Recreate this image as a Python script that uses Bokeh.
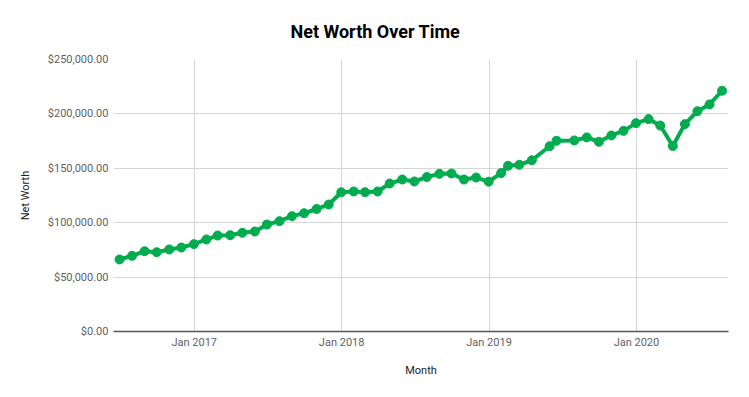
import pandas as pd
from bokeh.plotting import figure
from bokeh.models import (FixedTicker, NumeralTickFormatter, DatetimeTickFormatter,
                          Range1d, ColumnDataSource)
from bokeh.embed import file_html
from bokeh.resources import INLINE

# ---- data ----
dates = [
    "2016-06-30", "2016-07-31", "2016-08-31", "2016-09-30", "2016-10-31", "2016-11-30", "2016-12-31",
    "2017-01-31", "2017-02-28", "2017-03-31", "2017-04-30", "2017-05-31", "2017-06-30",
    "2017-07-31", "2017-08-31", "2017-09-30", "2017-10-31", "2017-11-30", "2017-12-31",
    "2018-01-31", "2018-02-28", "2018-03-31", "2018-04-30", "2018-05-31", "2018-06-30",
    "2018-07-31", "2018-08-31", "2018-09-30", "2018-10-31", "2018-11-30", "2018-12-31",
    "2019-01-31", "2019-02-17", "2019-03-17", "2019-04-17", "2019-05-31", "2019-06-17",
    "2019-07-31", "2019-08-31", "2019-09-30", "2019-10-31", "2019-11-30", "2019-12-31",
    "2020-01-31", "2020-02-29", "2020-03-31", "2020-04-30", "2020-05-31", "2020-06-30", "2020-07-31",
]
net_worth = [
    66200, 69600, 73800, 72900, 75400, 77200, 80300,
    84600, 88200, 88500, 90700, 91900, 98300,
    101400, 106000, 108700, 112600, 116700, 128000,
    128700, 128000, 128700, 136000, 139700, 137900,
    142000, 144900, 145200, 139700, 141500, 137700,
    145600, 152300, 153200, 157400, 170300, 175300,
    175600, 178400, 174400, 180200, 184400, 191500,
    195200, 189300, 170500, 190600, 202500, 208700, 221300,
]
x_ticks = ["2017-01-01", "2018-01-01", "2019-01-01", "2020-01-01"]
y_ticks = [0, 50000, 100000, 150000, 200000, 250000]

title_text = "Net Worth Over Time"
x_title = "Month"
y_title = "Net Worth"

# ---- build ----
dt = pd.to_datetime(dates)
src = ColumnDataSource(dict(x=dt, y=net_worth))

x_start = dt[0] - pd.Timedelta(days=15)
x_end = dt[-1] + pd.Timedelta(days=16)

FONT = "Roboto"
GREEN = "#00ac4e"

p = figure(width=733, height=381, x_axis_type="datetime",
           output_backend="svg", toolbar_location=None,
           x_range=Range1d(x_start, x_end), y_range=Range1d(y_ticks[0], y_ticks[-1]),
           min_border_left=113, min_border_right=5, min_border_top=59, min_border_bottom=50)

p.title.text = title_text
p.title.text_font = FONT
p.title.text_font_size = "18px"
p.title.text_font_style = "bold"
p.title.text_color = "#000000"
p.title.text_line_height = 1.0
p.title.align = "left"
p.title.offset = 177
p.title.standoff = 35

p.outline_line_color = None
p.background_fill_color = "white"
p.border_fill_color = "white"

xt = [pd.Timestamp(d).value // 10**6 for d in x_ticks]
p.xaxis.ticker = FixedTicker(ticks=xt)
p.xgrid.ticker = FixedTicker(ticks=xt)
p.xaxis.formatter = DatetimeTickFormatter(years="%b %Y", months="%b %Y", days="%b %Y",
                                          hours="%b %Y", minutes="%b %Y")
p.yaxis.ticker = FixedTicker(ticks=y_ticks)
p.ygrid.ticker = FixedTicker(ticks=y_ticks)
p.yaxis.formatter = NumeralTickFormatter(format="$0,0.00")

for ax in (p.xaxis[0], p.yaxis[0]):
    ax.major_tick_line_color = None
    ax.minor_tick_line_color = None
    ax.major_tick_out = 0
    ax.major_tick_in = 0
    ax.major_label_text_font = FONT
    ax.major_label_text_font_size = "11px"
    ax.major_label_text_color = "#5f5f5f"
    ax.axis_label_text_font = FONT
    ax.axis_label_text_font_size = "11px"
    ax.axis_label_text_font_style = "normal"
    ax.axis_label_text_color = "#222222"

p.xaxis.major_label_standoff = 4
p.yaxis.major_label_standoff = 5
p.xaxis.axis_label = x_title
p.yaxis.axis_label = y_title
p.xaxis.axis_line_color = "#555555"
p.xaxis.axis_line_width = 1.5
p.yaxis.axis_line_color = None
p.xaxis.axis_label_standoff = 12
p.yaxis.axis_label_standoff = 13

p.xgrid.grid_line_color = "#d6d6d6"
p.ygrid.grid_line_color = "#d6d6d6"

p.line("x", "y", source=src, line_color=GREEN, line_width=4, line_join="round")
p.scatter("x", "y", source=src, size=9, fill_color=GREEN, line_color=GREEN)

open("out.html", "w").write(file_html(p, INLINE))
